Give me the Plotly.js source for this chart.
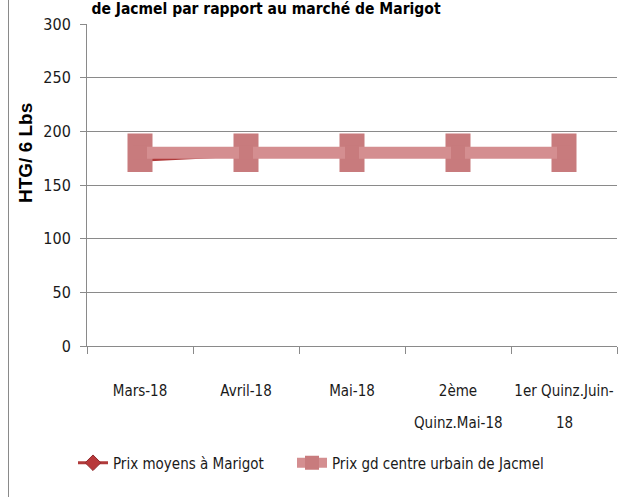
<!DOCTYPE html>
<html>
<head>
<meta charset="utf-8">
<script src="https://cdn.plot.ly/plotly-3.0.1.min.js"></script>
<style>
html,body{margin:0;padding:0;background:#fff;}
#wrap{position:relative;width:618px;height:497px;overflow:hidden;}
#frame{position:absolute;left:8px;top:0;width:0;height:497px;border-left:1px solid #8a8a8a;}
#chart{position:absolute;left:0;top:0;width:618px;height:497px;}
</style>
</head>
<body>
<div id="wrap"><div id="chart"></div><div id="frame"></div></div>
<script>
const categories = ["Mars-18", "Avril-18", "Mai-18", "2ème Quinz.Mai-18", "1er Quinz.Juin-18"];
const tickLine1 = ["Mars-18", "Avril-18", "Mai-18", "2ème", "1er Quinz.Juin-"];
const tickLine2 = ["", "", "", "Quinz.Mai-18", "18"];
const prixMarigot = [173, 178, 180, 180, 180];
const prixJacmel = [180, 180, 180, 180, 180];
const seriesNames = ["Prix moyens à Marigot", "Prix gd centre urbain de Jacmel"];
const yTicks = [0, 50, 100, 150, 200, 250, 300];

const narrow = "DejaVu Sans Condensed, Liberation Sans Narrow, sans-serif";

const traces = [
  {
    x: categories, y: prixMarigot, name: seriesNames[0],
    type: "scatter", mode: "lines+markers", legend: "legend",
    line: {color: "#b03a3a", width: 3},
    marker: {symbol: "diamond", size: 12, color: "#b8383a", line: {color: "#8e2a2c", width: 1}}
  },
  {
    x: categories, y: prixJacmel, name: seriesNames[1],
    type: "scatter", mode: "lines+markers", legend: "legend2",
    line: {color: "#d48e90", width: 12},
    marker: {symbol: "square", size: 14, color: "#c87b7d", line: {color: "#c87b7d", width: 0}},
    error_y: {type: "constant", value: 18, thickness: 25, width: 0, color: "#c87b7d"}
  }
];

const annotations = [{
  text: "HTG/ 6 Lbs",
  xref: "paper", yref: "paper",
  x: (25 - 87) / 530, y: (346 - 153) / 322,
  xanchor: "center", yanchor: "middle",
  textangle: -90, showarrow: false,
  font: {family: "Liberation Sans, Arial, sans-serif", size: 19, color: "#000", weight: "bold"}
}];
categories.forEach((c, i) => {
  if (tickLine2[i]) {
    annotations.push({
      text: tickLine2[i], xref: "x", yref: "paper",
      x: c, y: (346 - 423) / 322,
      xanchor: "center", yanchor: "middle", showarrow: false,
      font: {family: narrow, size: 15, color: "#1a1a1a"}
    });
  }
});

const legendBase = {
  orientation: "h",
  xref: "container", yref: "container",
  xanchor: "left",
  y: (497 - 463)/497, yanchor: "middle",
  font: {family: narrow, size: 15, color: "#1a1a1a"},
  bgcolor: "rgba(0,0,0,0)",
  itemwidth: 30
};

const layout = {
  width: 618, height: 497,
  margin: {l: 87, r: 1, t: 24, b: 151},
  paper_bgcolor: "#ffffff", plot_bgcolor: "#ffffff",
  showlegend: true,
  title: {
    text: "de Jacmel par rapport au marché de Marigot",
    font: {family: narrow, size: 15.5, color: "#000", weight: "bold"},
    x: 266/618, xanchor: "center", xref: "container",
    y: 1 - 9/497, yanchor: "middle", yref: "container"
  },
  xaxis: {
    type: "category",
    range: [-0.5, 4.5],
    tickvals: categories, ticktext: tickLine1,
    tickson: "boundaries",
    ticks: "outside", ticklen: 7, tickcolor: "#8a8a8a", tickwidth: 1,
    showline: true, linecolor: "#8a8a8a", linewidth: 1,
    showgrid: false, zeroline: false,
    tickfont: {family: narrow, size: 15, color: "#1a1a1a"},
    tickangle: 0,
    ticklabelstandoff: 31
  },
  yaxis: {
    range: [0, 300],
    tickvals: yTicks,
    ticks: "outside", ticklen: 6, tickcolor: "#8a8a8a", tickwidth: 1,
    showline: true, linecolor: "#8a8a8a", linewidth: 1,
    showgrid: true, gridcolor: "#8a8a8a", gridwidth: 1,
    zeroline: false,
    tickfont: {family: narrow, size: 16, color: "#1a1a1a"},
    ticklabelstandoff: 6
  },
  annotations: annotations,
  legend: Object.assign({}, legendBase, {x: 73/618}),
  legend2: Object.assign({}, legendBase, {x: 292/618})
};

Plotly.newPlot("chart", traces, layout, {displayModeBar: false, staticPlot: true});
</script>
</body>
</html>
